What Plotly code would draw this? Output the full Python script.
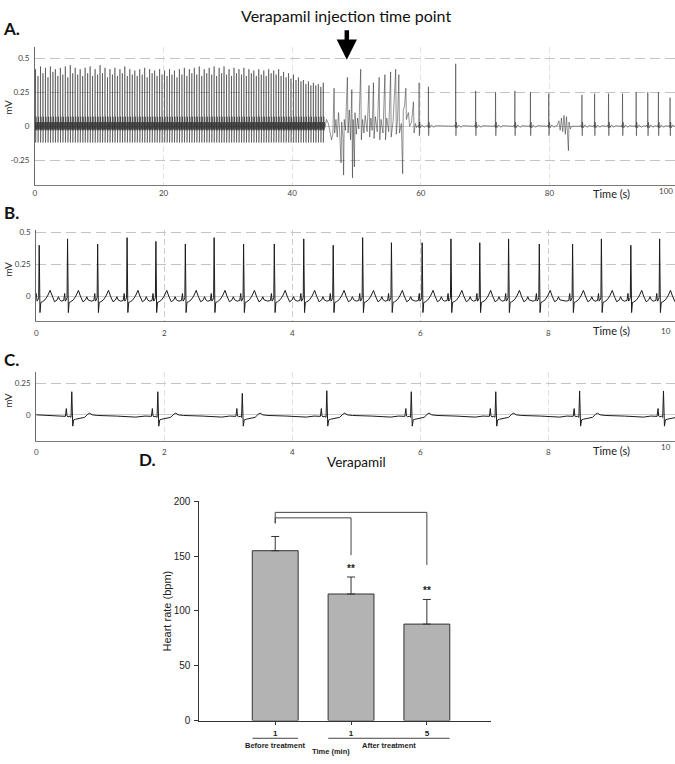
import plotly.graph_objects as go

W, H = 675, 764

# ---------------- Panel A : 100 s recording ----------------
a_fast_t = [0.10, 0.48, 0.87, 1.25, 1.64, 2.03, 2.41, 2.80, 3.18, 3.57,
            3.96, 4.34, 4.73, 5.12, 5.50, 5.88, 6.27, 6.66, 7.04, 7.43,
            7.81, 8.20, 8.59, 8.97, 9.36, 9.75, 10.13, 10.51, 10.90, 11.29,
            11.67, 12.06, 12.44, 12.83, 13.22, 13.60, 13.98, 14.37, 14.76, 15.14,
            15.53, 15.91, 16.30, 16.69, 17.07, 17.46, 17.84, 18.23, 18.62, 19.00,
            19.39, 19.77, 20.16, 20.55, 20.93, 21.31, 21.70, 22.09, 22.47, 22.86,
            23.24, 23.63, 24.02, 24.40, 24.79, 25.17, 25.56, 25.94, 26.33, 26.72,
            27.10, 27.49, 27.87, 28.26, 28.65, 29.03, 29.41, 29.80, 30.19, 30.57,
            30.96, 31.34, 31.73, 32.12, 32.50, 32.88, 33.27, 33.66, 34.04, 34.43,
            34.81, 35.20, 35.59, 35.97, 36.35, 36.74, 37.13, 37.51, 37.90, 38.28,
            38.67, 39.06, 39.44, 39.82, 40.21, 40.60, 40.98, 41.37, 41.75, 42.14,
            42.53, 42.91, 43.30, 43.68, 44.07, 44.46, 44.84]
a_fast_amp = [0.42, 0.37, 0.44, 0.39, 0.43, 0.36, 0.44, 0.40, 0.42, 0.37,
              0.43, 0.38, 0.44, 0.36, 0.45, 0.39, 0.43, 0.38, 0.42, 0.37,
              0.43, 0.39, 0.44, 0.37, 0.42, 0.38, 0.45, 0.39, 0.43, 0.36,
              0.42, 0.38, 0.43, 0.37, 0.42, 0.39, 0.44, 0.37, 0.42, 0.38,
              0.41, 0.37, 0.42, 0.38, 0.43, 0.36, 0.42, 0.39, 0.41, 0.37,
              0.42, 0.38, 0.41, 0.37, 0.42, 0.38, 0.41, 0.36, 0.42, 0.38,
              0.43, 0.37, 0.42, 0.39, 0.43, 0.38, 0.44, 0.37, 0.42, 0.39,
              0.43, 0.38, 0.44, 0.37, 0.43, 0.39, 0.44, 0.38, 0.42, 0.37,
              0.43, 0.39, 0.42, 0.38, 0.43, 0.37, 0.42, 0.39, 0.41, 0.37,
              0.42, 0.38, 0.41, 0.37, 0.42, 0.39, 0.41, 0.38, 0.42, 0.37,
              0.40, 0.36, 0.39, 0.35, 0.38, 0.34, 0.36, 0.33, 0.34, 0.31,
              0.33, 0.30, 0.32, 0.30, 0.31, 0.29, 0.32]
a_fast_dt = [-0.10, -0.06, -0.03, 0.0, 0.015, 0.045, 0.09, 0.14, 0.19, 0.24]
a_fast_shape = [-0.02, 0.03, -0.03, None, -0.12, 0.01, 0.07, -0.03, 0.03, -0.01]

# irregular period right after the injection
a_mid_t = [45.33, 45.63, 45.92, 46.12, 46.32, 46.52, 46.61, 46.81, 47.01, 47.21, 47.40,
           47.60, 47.70, 47.90, 48.00, 48.10, 48.29, 48.39, 48.59, 48.69, 48.89, 49.08, 49.28,
           49.38, 49.48, 49.68, 49.77, 49.97, 50.17, 50.37, 50.66, 50.76, 50.96, 51.16, 51.36,
           51.65, 51.95, 52.05, 52.24, 52.44, 52.64, 52.74, 52.94, 53.23, 53.53, 53.63, 53.82,
           54.12, 54.42, 54.52, 54.71, 55.01, 55.31, 55.40, 55.70, 56.10, 56.19, 56.39, 56.59,
           56.69, 56.98, 57.18, 57.28, 57.48, 57.68, 57.77, 58.07, 58.27, 58.57, 58.86, 58.96,
           59.16, 59.35]
a_mid_v = [0.05, 0.02, -0.05, -0.10, -0.06, 0.28, -0.05, 0.05, -0.08, 0.10, -0.05,
           -0.27, 0.03, -0.08, -0.36, 0.05, -0.03, 0.08, 0.36, -0.05, 0.12, -0.10, 0.27,
           -0.38, 0.05, -0.30, 0.10, -0.06, 0.06, -0.02, 0.42, -0.10, 0.05, -0.05, 0.08,
           -0.04, 0.30, -0.08, 0.06, -0.03, 0.32, -0.09, 0.07, -0.04, 0.36, -0.10, 0.05,
           -0.05, 0.38, -0.10, 0.06, -0.04, 0.40, -0.08, 0.04, 0.42, -0.06, 0.05, 0.38,
           -0.05, 0.02, -0.35, 0.12, 0.15, 0.28, 0.05, 0.10, 0.00, 0.03, 0.18, -0.05,
           0.02, -0.01]

# slower rhythm later in the recording
a_slow_t = [59.74, 61.19, 65.43, 68.53, 71.63, 74.63, 77.05, 79.90, 85.06, 87.03,
            89.20, 91.37, 93.49, 95.30, 96.95, 98.76]
a_slow_amp = [0.32, 0.29, 0.46, 0.26, 0.25, 0.26, 0.25, 0.24, 0.23, 0.24,
              0.24, 0.24, 0.25, 0.25, 0.25, 0.21]
a_slow_dt = [-0.30, -0.12, -0.04, 0.0, 0.04, 0.09, 0.20, 0.45, 0.80, 1.10]
a_slow_shape = [0.0, 0.008, -0.01, None, -0.07, 0.03, -0.012, 0.01, -0.008, 0.004]

a_noise_t = [81.18, 81.48, 81.67, 81.87, 82.07, 82.27, 82.47, 82.66, 82.96, 83.05, 83.25, 83.45]
a_noise_v = [0.0, 0.04, -0.03, 0.06, -0.04, 0.08, -0.06, 0.07, -0.18, 0.03, -0.02, 0.0]
a_injection_t = 48.5

# ---------------- Panel B : 10 s before treatment ----------------
b_t = [0.047, 0.49, 0.96, 1.42, 1.87, 2.33, 2.78, 3.24, 3.72, 4.18, 4.64,
       5.10, 5.55, 6.03, 6.48, 6.93, 7.38, 7.86, 8.38, 8.83, 9.29, 9.74]
b_amp = [0.40, 0.45, 0.41, 0.46, 0.43, 0.41, 0.46, 0.41, 0.41, 0.45, 0.40,
         0.46, 0.42, 0.42, 0.45, 0.42, 0.45, 0.41, 0.41, 0.45, 0.40, 0.45]
b_dt = [-0.10, -0.06, -0.045, -0.035, -0.02, -0.008, 0.0, 0.012, 0.025, 0.05,
        0.09, 0.13, 0.17, 0.20, 0.24, 0.28, 0.30, 0.32]
b_shape = [-0.04, -0.035, 0.02, -0.04, -0.03, -0.01, None, -0.13, -0.05, -0.045,
           -0.03, 0.0, 0.045, 0.0, -0.045, -0.03, -0.005, -0.03]

# ---------------- Panel C : 10 s after verapamil ----------------
c_t = [0.556, 1.90, 3.22, 4.54, 5.86, 7.18, 8.49, 9.80]
c_amp = [0.184, 0.184, 0.171, 0.192, 0.184, 0.184, 0.19, 0.19]
c_dt = [-0.20, -0.10, -0.085, -0.075, -0.06, -0.03, -0.012, 0.0, 0.015, 0.03,
        0.06, 0.12, 0.20, 0.25, 0.28, 0.32, 0.40, 0.70, 1.00]
c_shape = [-0.01, -0.012, 0.05, -0.01, -0.015, -0.012, -0.02, None, -0.09, -0.04,
           -0.035, -0.03, -0.02, 0.005, 0.013, 0.0, -0.005, -0.01, -0.018]
c_lead_t = [0.0]
c_lead_v = [0.0]

# ---------------- Panel D : heart rate ----------------
d_labels = ["1", "1", "5"]
d_values = [155, 115.5, 88]
d_err = [13, 15.5, 22.5]
d_stars = ["", "**", "**"]
d_groups = ["Before treatment", "After treatment"]
d_group_span = [(0.7, 1.3), (1.7, 3.3)]
bracket_to = [2, 3]
bracket_top = [185, 190]
bracket_end = [151, 142]
bracket_stub = 180


def build(times, amps, dts, shape):
    xs, ys = [], []
    for t, a in zip(times, amps):
        for d, v in zip(dts, shape):
            xs.append(t + d)
            ys.append(a if v is None else v)
    return xs, ys


ax1, ay1 = build(a_fast_t, a_fast_amp, a_fast_dt, a_fast_shape)
ax2, ay2 = build(a_slow_t, a_slow_amp, a_slow_dt, a_slow_shape)
pts = sorted(zip(ax1 + a_mid_t + ax2 + a_noise_t, ay1 + a_mid_v + ay2 + a_noise_v))
a_x = [p[0] for p in pts]
a_y = [p[1] for p in pts]

bx, by = build(b_t, b_amp, b_dt, b_shape)
cx, cy = build(c_t, c_amp, c_dt, c_shape)
cx = c_lead_t + cx
cy = c_lead_v + cy

fig = go.Figure()
trace_col = "#1c1c1c"
fig.add_trace(go.Scatter(x=a_x, y=a_y, mode="lines", line=dict(color="#262626", width=0.5),
                         xaxis="x", yaxis="y", showlegend=False, hoverinfo="skip"))
fig.add_trace(go.Scatter(x=bx, y=by, mode="lines", line=dict(color=trace_col, width=1),
                         xaxis="x2", yaxis="y2", showlegend=False, hoverinfo="skip"))
fig.add_trace(go.Scatter(x=cx, y=cy, mode="lines", line=dict(color=trace_col, width=1),
                         xaxis="x3", yaxis="y3", showlegend=False, hoverinfo="skip"))

fig.add_trace(go.Bar(x=[1, 2, 3], y=d_values, width=0.605,
                     marker=dict(color="#b3b3b3", line=dict(color="#333333", width=1)),
                     error_y=dict(type="data", symmetric=False, array=d_err, arrayminus=[0, 0, 0],
                                  color="#333333", thickness=1, width=4),
                     xaxis="x4", yaxis="y4", showlegend=False, hoverinfo="skip"))

# significance brackets
for xe, top, end in zip(bracket_to, bracket_top, bracket_end):
    fig.add_trace(go.Scatter(x=[1, 1, xe, xe], y=[bracket_stub, top, top, end], mode="lines",
                             line=dict(color="#444444", width=1), xaxis="x4", yaxis="y4",
                             showlegend=False, hoverinfo="skip"))


def px_x(p):
    return p / W


def px_y(p):
    return 1 - p / H


FONT = "Lato"
grid_dash = "10px,5px"

ecg_specs = [
    # (suffix, xdom px, ydom px, xrange, xticks, yrange, yticks, standoff, vgrid colour)
    ("", (33, 675), (43, 182), [0, 99.53], [0, 20, 40, 60, 80], [-0.43, 0.58],
     [0.5, 0.25, 0, -0.25], 1, "#e4e4e4"),
    ("2", (34.3, 675), (228, 320), [0, 9.98], [0, 2, 4, 6, 8], [-0.195, 0.52],
     [0.5, 0.25, 0], 5, "#cccccc"),
    ("3", (34.3, 675), (372, 442), [0, 9.98], [0, 2, 4, 6, 8], [-0.21, 0.34],
     [0.25, 0], 3, "#e2e2e2"),
]
last_tick = [("100", 188), ("10", 330), ("10", 448)]

lay = dict(width=W, height=H, margin=dict(l=0, r=0, t=0, b=0), autosize=False,
           paper_bgcolor="white", plot_bgcolor="white", showlegend=False,
           font=dict(family=FONT, color="#222"))

for suf, xd, yd, xr, xt, yr, yt, so, vcol in ecg_specs:
    anchor_y = "y" + suf
    anchor_x = "x" + suf
    lay["xaxis" + suf] = dict(domain=[px_x(xd[0]), px_x(xd[1])], range=xr, anchor=anchor_y,
                              tickvals=xt, ticktext=[str(v) for v in xt], showgrid=False,
                              minor=dict(tickvals=xt[1:], showgrid=True, gridcolor=vcol,
                                         griddash="6px,3px", gridwidth=1, ticks=""),
                              zeroline=False, showline=True, linecolor="#7a7a7a", linewidth=1,
                              ticks="", tickfont=dict(size=8, color="#444", family=FONT),
                              ticklabelstandoff=so, fixedrange=True)
    lay["yaxis" + suf] = dict(domain=[px_y(yd[1]), px_y(yd[0])], range=yr, anchor=anchor_x,
                              tickvals=yt, ticktext=[("%g" % v) for v in yt], showgrid=True,
                              gridcolor="#c4c4c4", griddash=grid_dash, gridwidth=1,
                              zeroline=True, zerolinecolor="#cdcdcd", zerolinewidth=1,
                              showline=True, linecolor="#6a6a6a", linewidth=1, ticks="",
                              tickfont=dict(size=8, color="#444", family=FONT),
                              ticklabelstandoff=3, fixedrange=True)

DF = "Liberation Sans"
lay["xaxis4"] = dict(domain=[px_x(198), px_x(490)], range=[0, 3.84], anchor="y4",
                     tickvals=[1, 2, 3], ticktext=["<b>%s</b>" % s for s in d_labels],
                     showgrid=False, zeroline=False, showline=True, linecolor="#333", linewidth=1,
                     ticks="outside", ticklen=3, tickcolor="#333",
                     tickfont=dict(size=8, color="#222", family=DF), ticklabelstandoff=2,
                     fixedrange=True)
lay["yaxis4"] = dict(domain=[px_y(725), px_y(503)], range=[0, 200], anchor="x4",
                     tickvals=[0, 50, 100, 150, 200], showgrid=False, zeroline=False,
                     showline=True, linecolor="#333", linewidth=1, ticks="outside", ticklen=4,
                     tickcolor="#333", tickfont=dict(size=10, color="#222", family=DF),
                     ticklabelstandoff=2, fixedrange=True)

fig.update_layout(**lay)

ann = []


def txt(x, y, s, size, bold=False, family=FONT, angle=0, color="#111"):
    ann.append(dict(x=px_x(x), y=px_y(y), xref="paper", yref="paper", text=("<b>%s</b>" % s) if bold else s,
                    showarrow=False, xanchor="center", yanchor="middle", textangle=angle,
                    font=dict(size=size, family=family, color=color)))


txt(345, 11, "Verapamil injection time point", 16)
txt(10, 24, "A.", 17, bold=True)
txt(10, 210, "B.", 17, bold=True)
txt(10, 359, "C.", 17, bold=True)
txt(146, 461, "D.", 17, bold=True)
txt(356, 463, "Verapamil", 13.5)
for yy in (103, 267, 400):
    txt(6, yy, "mV", 10, angle=-90, color="#222")
for yy in (191, 330, 451):
    txt(611, yy, "Time (s)", 11, color="#222")
for s, yy in last_tick:
    txt(666, yy, s, 8, color="#444")

txt(165, 614, "Heart rate (bpm)", 11, family=DF, angle=-90, color="#222")
txt(330, 756, "Time (min)", 7.5, bold=True, family=DF, color="#222")

# group labels under the bar chart
for g, (x0, x1) in zip(d_groups, d_group_span):
    ann.append(dict(x=(x0 + x1) / 2, y=px_y(750), xref="x4", yref="paper", text="<b>%s</b>" % g,
                    showarrow=False, xanchor="center", yanchor="middle",
                    font=dict(size=7.5, family=DF, color="#222")))
    fig.add_shape(type="line", xref="x4", yref="paper", x0=x0, x1=x1, y0=px_y(743), y1=px_y(743),
                  line=dict(color="#444", width=1))

# significance stars
for i, s in enumerate(d_stars):
    if s:
        ann.append(dict(x=i + 1, y=d_values[i] + d_err[i] + 8, xref="x4", yref="y4", text="<b>%s</b>" % s,
                        showarrow=False, xanchor="center", yanchor="middle",
                        font=dict(size=10, family=DF, color="#222")))

# injection arrow
ann.append(dict(x=a_injection_t, y=0.49, xref="x", yref="y", text="", showarrow=True, ax=0, ay=-31,
                arrowhead=2, arrowwidth=4.5, arrowsize=0.9, arrowcolor="#000"))

fig.update_layout(annotations=ann)
fig.write_html("out.html", config={"displayModeBar": False},
               post_script="document.body.style.margin='0';document.body.style.padding='0';")
